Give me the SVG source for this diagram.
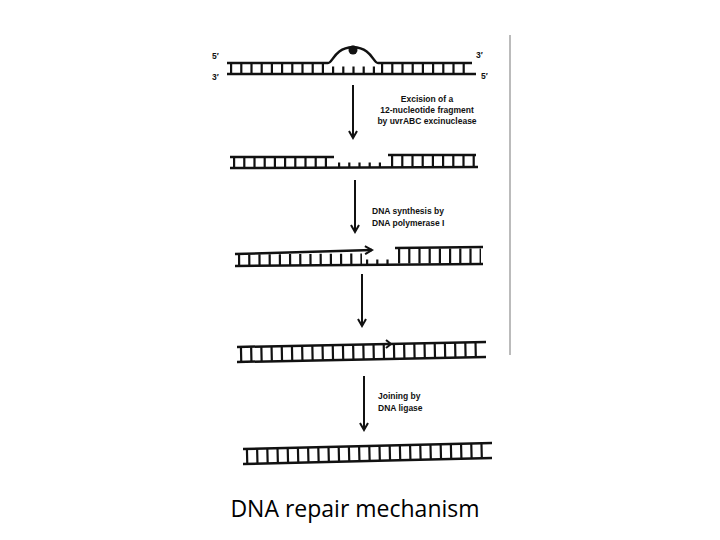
<svg xmlns="http://www.w3.org/2000/svg" width="720" height="540" viewBox="0 0 720 540">
<style>
.bb{stroke:#111;stroke-width:2.5;fill:none}
.r{stroke:#111;stroke-dasharray:2.2 8}
.ar{stroke:#111;stroke-width:2;fill:none}
.t{font-family:"Liberation Sans",Arial,sans-serif;font-weight:bold;font-size:8.5px;fill:#111}
</style>
<defs><marker id="ah" markerWidth="10" markerHeight="10" refX="8" refY="5" orient="auto" markerUnits="userSpaceOnUse"><path d="M1,1 L8,5 L1,9" fill="none" stroke="#111" stroke-width="2"/></marker></defs>
<rect width="720" height="540" fill="#fff"/>
<line x1="510" y1="35" x2="510" y2="355" stroke="#bbb" stroke-width="2"/>
<g id="strand1">
<path class="bb" d="M227,63 H328 C333,63 334,48 353,47 C372,48 373,63 378,63 H472"/>
<line class="bb" x1="227" y1="74" x2="476" y2="74"/>
<line class="r" x1="230" y1="68.5" x2="326" y2="68.5" stroke-width="11"/>
<line class="r" x1="332" y1="70" x2="376" y2="70" stroke-width="7"/>
<line class="r" x1="381" y1="68.5" x2="470" y2="68.5" stroke-width="11"/>
<circle cx="353" cy="50" r="4.5" fill="#111"/>
<text class="t" x="212" y="59">5′</text><text class="t" x="212" y="80">3′</text>
<text class="t" x="476" y="58">3′</text><text class="t" x="481" y="79">5′</text>
</g>
<g id="strand2">
<line class="bb" x1="230" y1="157" x2="334" y2="157"/>
<line class="bb" x1="388" y1="155" x2="476" y2="155"/>
<line class="bb" x1="230" y1="168" x2="478" y2="167"/>
<line class="r" x1="233" y1="162.5" x2="332" y2="162.5" stroke-width="11"/>
<line class="r" x1="338" y1="165" x2="388" y2="165" stroke-width="5"/>
<line class="r" x1="391" y1="161.5" x2="475" y2="161.5" stroke-width="12"/>
</g>
<g id="strand3">
<line class="bb" x1="235" y1="254" x2="372" y2="250" marker-end="url(#ah)"/>
<line class="bb" x1="395" y1="248" x2="483" y2="247"/>
<line class="bb" x1="235" y1="266" x2="483" y2="264"/>
<line class="r" x1="238" y1="260" x2="362" y2="259" stroke-width="11"/>
<line class="r" x1="366" y1="262" x2="394" y2="262" stroke-width="5"/>
<line class="r" x1="398" y1="256" x2="481" y2="256" stroke-width="15"/>
</g>
<g id="strand4">
<line class="bb" x1="237" y1="347" x2="486" y2="342"/>
<path d="M386,340 L391,344 L386,348" fill="none" stroke="#111" stroke-width="2"/>
<line class="bb" x1="237" y1="362" x2="486" y2="357"/>
<line class="r" x1="240" y1="354.5" x2="484" y2="349.5" stroke-width="14"/>
</g>
<g id="strand5">
<line class="bb" x1="243" y1="449" x2="492" y2="443"/>
<line class="bb" x1="243" y1="464" x2="492" y2="458"/>
<line class="r" x1="246" y1="456.5" x2="490" y2="450.5" stroke-width="14"/>
</g>
<g id="connectors">
<line class="ar" x1="353" y1="85" x2="353" y2="138" marker-end="url(#ah)"/>
<line class="ar" x1="355" y1="180" x2="355" y2="232" marker-end="url(#ah)"/>
<line class="ar" x1="362" y1="274" x2="362" y2="326" marker-end="url(#ah)"/>
<line class="ar" x1="364" y1="376" x2="364" y2="430" marker-end="url(#ah)"/>
</g>
<g id="labels">
<text class="t" x="427" y="102" text-anchor="middle">Excision of a</text>
<text class="t" x="427" y="113" text-anchor="middle">12-nucleotide fragment</text>
<text class="t" x="427" y="124" text-anchor="middle">by uvrABC excinuclease</text>
<text class="t" x="372" y="214">DNA synthesis by</text>
<text class="t" x="372" y="226">DNA polymerase I</text>
<text class="t" x="378" y="399">Joining by</text>
<text class="t" x="378" y="411">DNA ligase</text>
</g>
<text x="355" y="517" text-anchor="middle" font-family="'Open Sans','Liberation Sans',sans-serif" font-size="23" fill="#000">DNA repair mechanism</text>
</svg>
